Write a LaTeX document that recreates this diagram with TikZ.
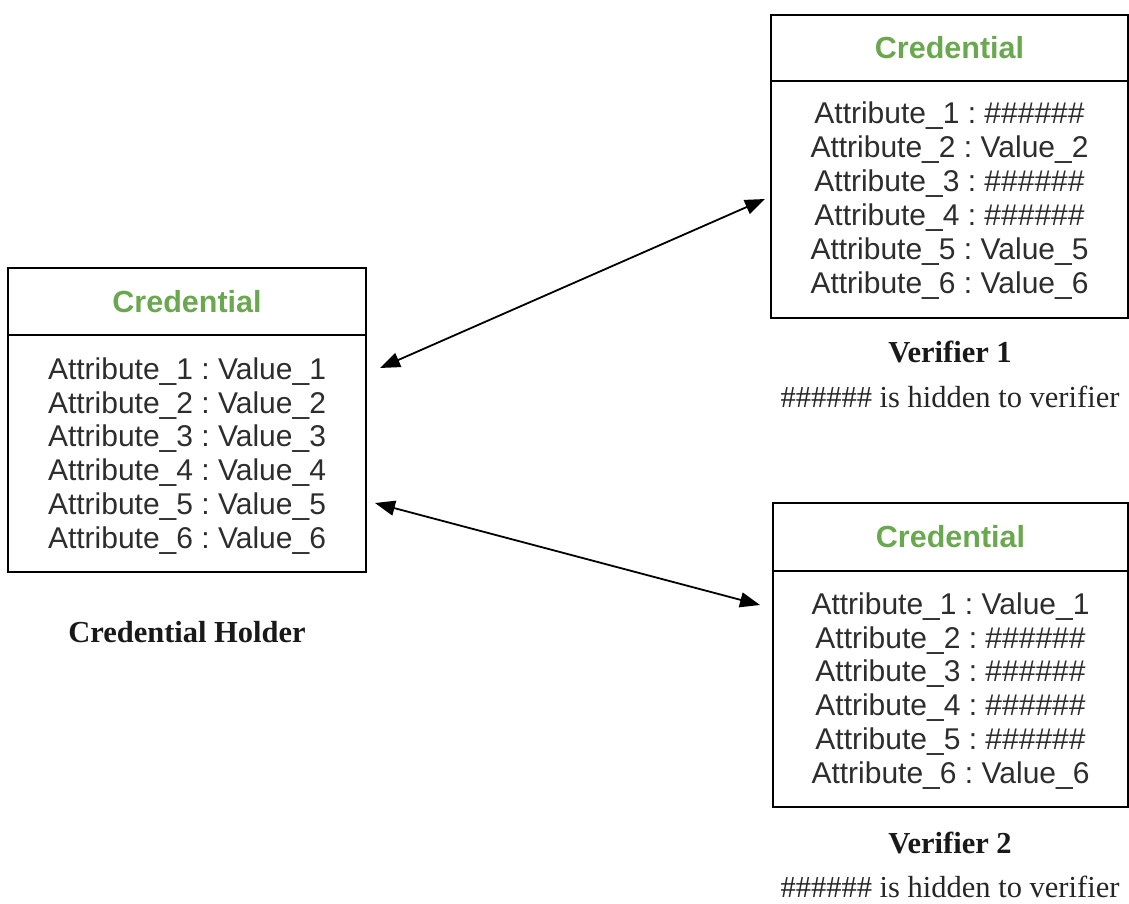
\documentclass[tikz,border=0pt]{standalone}
\usepackage{fontspec}
\setmainfont{Liberation Serif}
\setsansfont{Liberation Sans}
\usetikzlibrary{arrows.meta}
\definecolor{credgreen}{RGB}{106,168,79}
\definecolor{bodygray}{RGB}{45,45,45}
\frenchspacing
\begin{document}
\begin{tikzpicture}[x=1pt,y=-1pt,
  box/.style={draw=black, line width=1.8pt, rectangle, inner sep=0pt},
  divider/.style={line width=1.8pt},
  ttl/.style={font=\sffamily\bfseries\fontsize{30.5}{34}\selectfont, text=credgreen},
  body/.style={font=\sffamily\fontsize{30}{33.9}\selectfont, text=bodygray, align=center, inner sep=0pt},
  lbl/.style={font=\rmfamily\bfseries\fontsize{30.5}{34}\selectfont, text=black!90},
  note/.style={font=\rmfamily\fontsize{30.5}{34}\selectfont, text=black!85},
  link/.style={line width=1.8pt, {Triangle[length=20pt,width=15pt]}-{Triangle[length=20pt,width=15pt]}}]
\useasboundingbox (0,0) rectangle (1129,904);

% Credential holder
\node[box, minimum width=358pt, minimum height=304pt] (holder) at (187,420) {};
\draw[divider] ([yshift=-68pt]holder.north west) -- ([yshift=-68pt]holder.north east);
\node[ttl] (holdertitle) at (187,302) {Credential};
\node[body] (holderbody) at (187,456) {Attribute\_1 : Value\_1\\Attribute\_2 : Value\_2\\Attribute\_3 : Value\_3\\Attribute\_4 : Value\_4\\Attribute\_5 : Value\_5\\Attribute\_6 : Value\_6};
\node[lbl] (holderlbl) at (187,632) {Credential Holder};

% Verifier 1
\node[box, minimum width=357pt, minimum height=303pt] (vone) at (949.5,166.5) {};
\draw[divider] ([yshift=-67pt]vone.north west) -- ([yshift=-67pt]vone.north east);
\node[ttl] (vonetitle) at (949.5,48) {Credential};
\node[body] (vonebody) at (949.5,200.5) {Attribute\_1 : \#\#\#\#\#\#\\Attribute\_2 : Value\_2\\Attribute\_3 : \#\#\#\#\#\#\\Attribute\_4 : \#\#\#\#\#\#\\Attribute\_5 : Value\_5\\Attribute\_6 : Value\_6};
\node[lbl] (vonelbl) at (950,352) {Verifier 1};
\node[note] (vonenote) at (950,397) {\#\#\#\#\#\# is hidden to verifier};

% Verifier 2
\node[box, minimum width=355pt, minimum height=304pt] (vtwo) at (950.5,655) {};
\draw[divider] ([yshift=-69pt]vtwo.north west) -- ([yshift=-69pt]vtwo.north east);
\node[ttl] (vtwotitle) at (950.5,537) {Credential};
\node[body] (vtwobody) at (950.5,691) {Attribute\_1 : Value\_1\\Attribute\_2 : \#\#\#\#\#\#\\Attribute\_3 : \#\#\#\#\#\#\\Attribute\_4 : \#\#\#\#\#\#\\Attribute\_5 : \#\#\#\#\#\#\\Attribute\_6 : Value\_6};
\node[lbl] (vtwolbl) at (950,843) {Verifier 2};
\node[note] (vtwonote) at (950,887) {\#\#\#\#\#\# is hidden to verifier};

% connectors
\coordinate (hone) at (380,368);
\coordinate (vonein) at (765,199);
\coordinate (htwo) at (375,503);
\coordinate (vtwoin) at (760,605);
\draw[link] (hone) -- (vonein);
\draw[link] (htwo) -- (vtwoin);
\end{tikzpicture}
\end{document}
